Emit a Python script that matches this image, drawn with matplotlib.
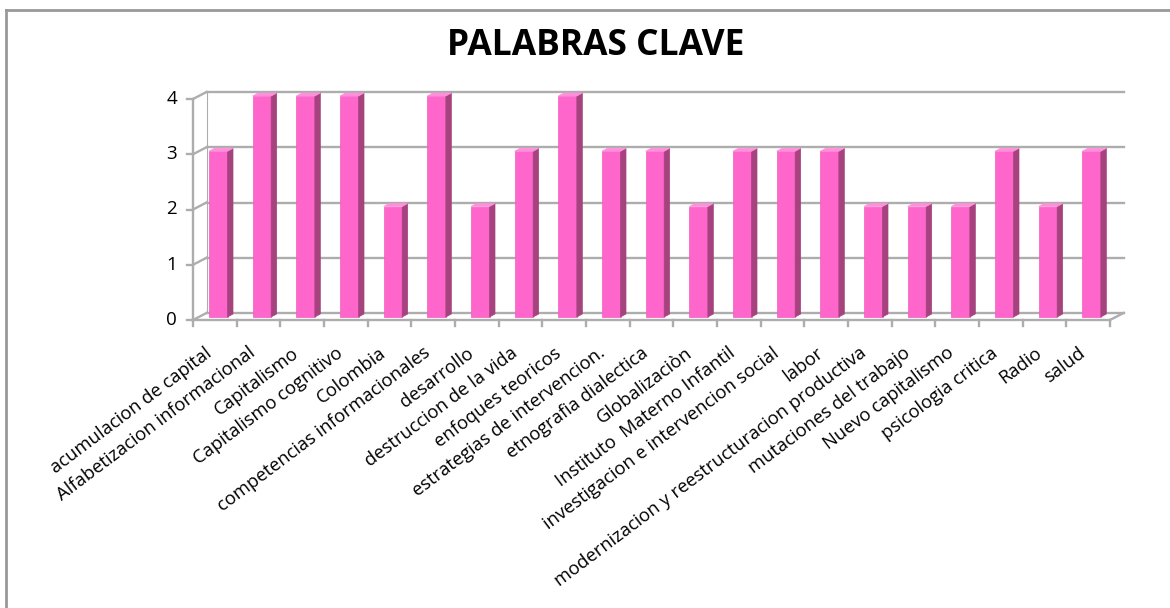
import matplotlib.pyplot as plt
from matplotlib.patches import Polygon

# datos
palabras = ['acumulacion de capital', 'Alfabetizacion informacional', 'Capitalismo',
            'Capitalismo cognitivo', 'Colombia', 'competencias informacionales',
            'desarrollo', 'destruccion de la vida', 'enfoques teoricos',
            'estrategias de intervencion.', 'etnografia dialectica', 'Globalizaciòn',
            'Instituto  Materno Infantil', 'investigacion e intervencion social', 'labor',
            'modernizacion y reestructuracion productiva', 'mutaciones del trabajo',
            'Nuevo capitalismo', 'psicologia critica', 'Radio', 'salud']
frecuencia = [3, 4, 4, 4, 2, 4, 2, 3, 4, 3, 3, 2, 3, 3, 3, 2, 2, 2, 3, 2, 3]
yticks = [0, 1, 2, 3, 4]

W, H = 1170, 608
fig = plt.figure(figsize=(W / 100, H / 100), dpi=100)
# ejes = plano frontal del grafico 3D
x0, x1, ytop, ybot = 193, 1110, 99, 320
ax = fig.add_axes([x0 / W, (H - ybot) / H, (x1 - x0) / W, (ybot - ytop) / H])
n = len(palabras)
ax.set_xlim(0, n)
ax.set_ylim(0, 4)
ax.axis('off')

px = (x1 - x0) / n
py = (ybot - ytop) / 4.0
dx, dy = 13.5 / px, 7 / py          # profundidad de la pared
gris = '#ADADAD'
kw = dict(color=gris, lw=1.7, clip_on=False, zorder=1)

# pared del fondo y lateral
for k in yticks:
    ax.plot([dx, n + dx], [k + dy, k + dy], **kw)
    ax.plot([0, dx], [k, k + dy], **kw)
    ax.plot([-6 / px, 0], [k, k], **kw)
ax.plot([0, 0], [0, 4], **kw)
ax.plot([dx, dx], [dy, 4 + dy], color=gris, lw=0.8, clip_on=False, zorder=1)
# suelo
ax.plot([0, n], [0, 0], **kw)
ax.plot([n, n + dx], [0, dy], **kw)
for i in range(n + 1):
    ax.plot([i, i], [0, -6 / py], **kw)

# barras 3D
frente = '#FF66CC'
lado = '#A6437F'
tapa = '#FF8FDB'
bx, by = 5.5 / px, 3 / py
base = 3 / py
ancho = 18.5 / px
for i, v in enumerate(frecuencia):
    izq = i + 16 / px
    der = izq + ancho
    top = v + base
    ax.bar(izq, v, width=ancho, bottom=base, align='edge', color=frente,
           edgecolor='#F25BBE', lw=0.5, clip_on=False, zorder=3)
    ax.add_patch(Polygon([(der, base), (der + bx, base + by), (der + bx, top + by), (der, top)],
                         closed=True, fc=lado, ec=lado, lw=0.5, clip_on=False, zorder=3))
    ax.add_patch(Polygon([(izq, top), (izq + bx, top + by), (der + bx, top + by), (der, top)],
                         closed=True, fc=tapa, ec=tapa, lw=0.5, clip_on=False, zorder=3))

fuente = 'Open Sans'
for k in yticks:
    ax.text(-16 / px, k, str(k), ha='right', va='center', fontsize=13.5, family=fuente)

for i, p in enumerate(palabras):
    ax.text(i + 0.5 - 2.2 / px, -35 / py, p, rotation=37, rotation_mode='anchor',
            ha='right', va='baseline', fontsize=13.2, family=fuente)

fig.text(596 / W, 1 - 46 / H, 'PALABRAS CLAVE', ha='center', va='center', fontsize=25.5,
         fontweight='bold', family=fuente)

# borde del area del grafico
fig.add_artist(plt.Line2D([6 / W, 6 / W], [0, 1 - 10 / H], color='#999999', lw=2))
fig.add_artist(plt.Line2D([6 / W, 1], [1 - 10 / H, 1 - 10 / H], color='#999999', lw=2))

fig.savefig('out.png', dpi=100)
